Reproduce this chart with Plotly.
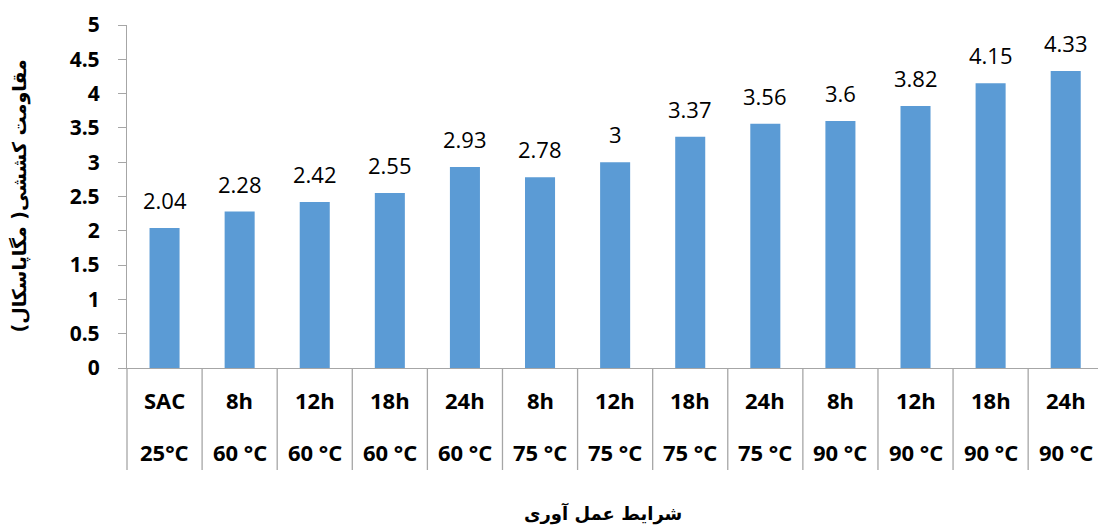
import plotly.graph_objects as go

times = ["SAC", "8h", "12h", "18h", "24h", "8h", "12h", "18h", "24h", "8h", "12h", "18h", "24h"]
temps = ["25°C", "60 °C", "60 °C", "60 °C", "60 °C", "75 °C", "75 °C", "75 °C", "75 °C",
         "90 °C", "90 °C", "90 °C", "90 °C"]
values = [2.04, 2.28, 2.42, 2.55, 2.93, 2.78, 3, 3.37, 3.56, 3.6, 3.82, 4.15, 4.33]
y_ticks = [0, 0.5, 1, 1.5, 2, 2.5, 3, 3.5, 4, 4.5, 5]
y_title = "مقاومت کششی( مگاپاسکال)"
x_title = "شرایط عمل آوری"

W, H = 1098, 529
ML, MR, MT, MB = 127, 0, 25, 161
plot_h = H - MT - MB

xs = list(range(len(values)))
AXIS_COLOR = "#A6A6A6"
FONT = "Open Sans, DejaVu Sans, sans-serif"

fig = go.Figure()
fig.add_trace(go.Bar(
    x=xs, y=values, width=0.4,
    marker=dict(color="#5B9BD5", line=dict(width=0)),
    hoverinfo="skip",
))

def py(px_below_axis):
    # paper y for a pixel offset below the x axis baseline
    return -px_below_axis / plot_h

annotations = []
for x, v in zip(xs, values):
    annotations.append(dict(
        x=x, y=v, xref="x", yref="y", text=f"{v:g}", showarrow=False,
        yanchor="middle", yshift=28,
        font=dict(family=FONT, size=22, color="#000000"),
    ))
for x, t, tp in zip(xs, times, temps):
    annotations.append(dict(
        x=x, y=py(32), xref="x", yref="paper", text=f"<b>{t}</b>", showarrow=False,
        yanchor="middle", font=dict(family=FONT, size=22, color="#000000"),
    ))
    annotations.append(dict(
        x=x, y=py(84), xref="x", yref="paper", text=f"<b>{tp}</b>", showarrow=False,
        yanchor="middle", font=dict(family=FONT, size=22, color="#000000"),
    ))

annotations.append(dict(
    x=-108 / (W - ML - MR), y=0.5, xref="paper", yref="paper",
    text=f"<b>{y_title}</b>", textangle=-90, showarrow=False,
    xanchor="center", yanchor="middle",
    font=dict(family="DejaVu Sans, sans-serif", size=19, color="#000000"),
))
annotations.append(dict(
    x=0.49, y=py(145), xref="paper", yref="paper",
    text=f"<b>{x_title}</b>", showarrow=False,
    xanchor="center", yanchor="middle",
    font=dict(family="DejaVu Sans, sans-serif", size=18, color="#000000"),
))

shapes = []
for x in xs[:-1]:
    shapes.append(dict(
        type="line", xref="x", yref="paper", x0=x + 0.5, x1=x + 0.5,
        y0=0, y1=py(102), line=dict(color=AXIS_COLOR, width=1.3),
    ))
shapes.append(dict(
    type="line", xref="paper", yref="paper", x0=0, x1=0,
    y0=0, y1=py(102), line=dict(color=AXIS_COLOR, width=1.3),
))

fig.update_layout(
    width=W, height=H,
    margin=dict(l=ML, r=MR, t=MT, b=MB),
    paper_bgcolor="white", plot_bgcolor="white",
    showlegend=False,
    bargap=0.6,
    annotations=annotations,
    shapes=shapes,
    xaxis=dict(
        range=[-0.5, len(values) - 0.57],
        showticklabels=False, ticks="", showgrid=False, zeroline=False,
        showline=True, linecolor=AXIS_COLOR, linewidth=1.3,
        fixedrange=True,
    ),
    yaxis=dict(
        range=[0, 5], tickvals=y_ticks, ticktext=[f"<b>{t:g}</b>" for t in y_ticks],
        ticks="outside", ticklen=8, tickcolor=AXIS_COLOR, tickwidth=1.3,
        showline=True, linecolor=AXIS_COLOR, linewidth=1.3,
        showgrid=False, zeroline=False,
        tickfont=dict(family=FONT, size=21, color="#000000"),
        ticklabelstandoff=14,
        fixedrange=True,
    ),
)

fig.write_html("out.html")
